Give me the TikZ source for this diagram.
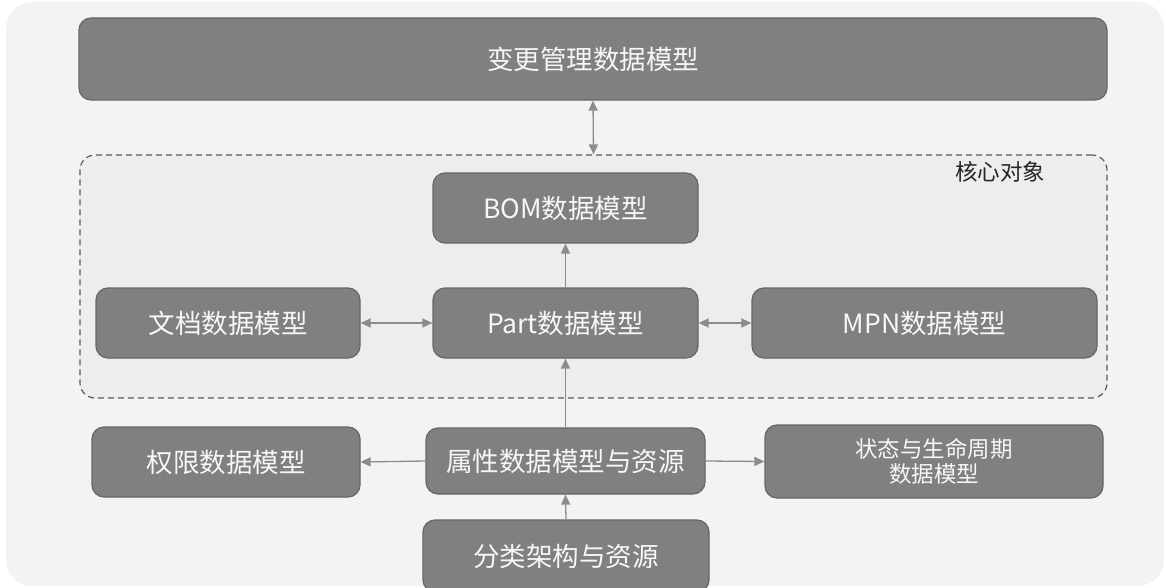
\documentclass[tikz,border=0pt]{standalone}
\usepackage{fontspec}
\setmainfont{Noto Sans CJK SC}
\usetikzlibrary{arrows.meta}
\definecolor{panelbg}{HTML}{F3F3F3}
\definecolor{corebg}{HTML}{EDEDED}
\definecolor{boxfill}{HTML}{808080}
\definecolor{boxedge}{HTML}{666666}
\definecolor{arrowc}{HTML}{8C8C8C}
\definecolor{dashc}{HTML}{5A5A5A}
\definecolor{txtc}{HTML}{F7F7F7}
\tikzset{
  modelbox/.style={draw=boxedge, line width=1.2pt, fill=boxfill, rounded corners=12pt,
    inner sep=0pt, text=txtc, align=center, font=\fontsize{26.5}{30}\selectfont},
  smallbox/.style={modelbox, font=\fontsize{22.5}{25}\selectfont},
  conn/.style={draw=arrowc, line width=1.3pt, -{Triangle[length=10pt,width=9pt]}},
  dconn/.style={draw=arrowc, line width=1.3pt, {Triangle[length=10pt,width=9pt]}-{Triangle[length=10pt,width=9pt]}},
  corebox/.style={draw=dashc, dash pattern=on 6pt off 4pt, line width=1.2pt, fill=corebg,
    rounded corners=15pt, inner sep=0pt}
}
\begin{document}
\begin{tikzpicture}[x=1pt,y=-1pt]
\useasboundingbox (0,0) rectangle (1166,588);
\begin{scope}
\clip (0,0) rectangle (1166,588);
\fill[panelbg, rounded corners=26pt] (6,2) rectangle (1164,586);
\node[modelbox, minimum width=1028pt, minimum height=82pt] (top) at (593,59) {变更管理数据模型};
\node[corebox, minimum width=1027pt, minimum height=243pt] (core) at (593.5,276.5) {};
\node[font=\fontsize{22.5}{25}\selectfont, text=black!85, inner sep=0pt] (corelabel) at (1000,172) {核心对象};
\node[modelbox, minimum width=265pt, minimum height=70pt] (bom) at (565.5,208) {BOM数据模型};
\node[modelbox, minimum width=265pt, minimum height=70pt] (part) at (565.5,323) {Part数据模型};
\node[modelbox, minimum width=264pt, minimum height=70pt] (doc) at (228,323) {文档数据模型};
\node[modelbox, minimum width=345pt, minimum height=70pt] (mpn) at (924.5,323) {MPN数据模型};
\node[modelbox, minimum width=268pt, minimum height=70pt] (perm) at (226,462) {权限数据模型};
\node[modelbox, minimum width=279pt, minimum height=66pt] (attr) at (565.5,461) {属性数据模型与资源};
\node[smallbox, minimum width=338pt, minimum height=73pt] (state) at (934,461.5) {状态与生命周期\\[0pt]数据模型};
\node[modelbox, minimum width=286pt, minimum height=72pt] (cls) at (566,556) {分类架构与资源};
\draw[dconn] (top.south) -- (core.north);
\draw[conn] (part.north) -- (bom.south);
\draw[dconn] (doc.east) -- (part.west);
\draw[dconn] (part.east) -- (mpn.west);
\draw[conn] (attr.north) -- (part.south);
\draw[conn] (attr.west) -- (perm.east);
\draw[conn] (attr.east) -- (state.west);
\draw[conn] (cls.north) -- (attr.south);
\end{scope}
\end{tikzpicture}
\end{document}
